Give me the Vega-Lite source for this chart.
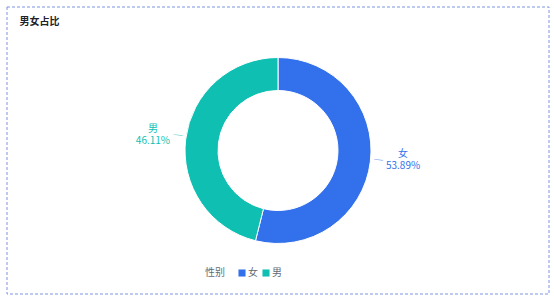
{
  "$schema": "https://vega.github.io/schema/vega-lite/v6.json",
  "width": 542,
  "height": 287,
  "autosize": "none",
  "padding": {"left": 7, "top": 7, "right": 5, "bottom": 5},
  "config": {
    "font": "Noto Sans CJK SC",
    "view": {"stroke": null}
  },
  "title": {
    "text": "男女占比",
    "anchor": "start",
    "offset": -20,
    "dx": 13,
    "fontSize": 10,
    "fontWeight": "bold",
    "color": "#1f2329",
    "font": "Noto Sans CJK SC"
  },
  "data": {
    "values": [
      {"gender": "女", "value": 53.89, "label": ["女", "53.89%"]},
      {"gender": "男", "value": 46.11, "label": ["男", "46.11%"]}
    ]
  },
  "layer": [
    {
      "data": {"values": [{"frame": 1}]},
      "mark": {"type": "rect", "fill": null, "stroke": "#7f93e2", "strokeDash": [3, 2], "strokeWidth": 1},
      "encoding": {}
    },
    {
      "encoding": {
        "theta": {"field": "value", "type": "quantitative", "stack": true},
        "color": {
          "field": "gender",
          "type": "nominal",
          "scale": {"domain": ["女", "男"], "range": ["#3370eb", "#0fbfb2"]},
          "legend": {
            "title": "性别",
            "orient": "none",
            "legendX": 198,
            "legendY": 261,
            "direction": "horizontal",
            "titleOrient": "left",
            "titleFontSize": 10,
            "titleFontWeight": "normal",
            "titleColor": "#646a73",
            "titlePadding": 12,
            "labelFontSize": 10,
            "labelColor": "#646a73",
            "labelOffset": 1,
            "symbolType": "square",
            "symbolSize": 50,
            "symbolStrokeWidth": 0,
            "columnPadding": 3
          }
        }
      },
      "layer": [
        {"mark": {"type": "arc", "innerRadius": 60, "outerRadius": 93, "stroke": "#ffffff", "strokeWidth": 1}},
        {
          "mark": {"type": "text", "radius": 101, "fontSize": 11, "angle": 7, "dy": -3, "opacity": 0.6, "font": "Noto Sans CJK SC"},
          "encoding": {"text": {"value": "—"}}
        },
        {
          "mark": {"type": "text", "radius": 126, "fontSize": 10, "lineHeight": 12, "dy": -12},
          "encoding": {"text": {"condition": {"test": "datum.gender === '女'", "field": "label"}, "value": ""}}
        },
        {
          "mark": {"type": "text", "radius": 126, "fontSize": 10, "lineHeight": 12, "dy": -6},
          "encoding": {"text": {"condition": {"test": "datum.gender === '男'", "field": "label"}, "value": ""}}
        }
      ]
    }
  ]
}
